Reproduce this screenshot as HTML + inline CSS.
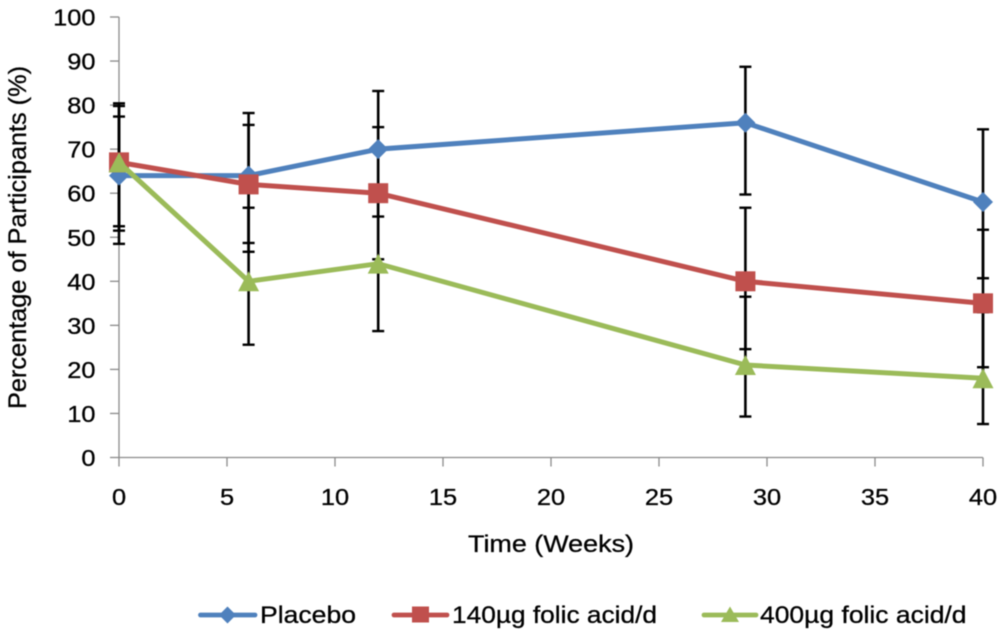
<!DOCTYPE html>
<html lang="en">
<head>
<meta charset="utf-8">
<title>Percentage of Participants over Time</title>
<style>
html,body{margin:0;padding:0;background:#fff;width:1000px;height:635px;overflow:hidden}
svg{display:block;filter:blur(0.45px)}
text{font-family:"Liberation Sans",sans-serif;fill:#000;stroke:#000;stroke-width:0.3px}
</style>
</head>
<body>
<svg id="chart" xmlns="http://www.w3.org/2000/svg" width="1000" height="635" viewBox="0 0 1000 635">
  <rect x="0" y="0" width="1000" height="635" fill="#fff"/>
  <g id="axes"></g>
  <g id="errors"></g>
  <g id="series"></g>
  <text transform="translate(26,409) rotate(-90)" font-size="25" textLength="343" lengthAdjust="spacingAndGlyphs">Percentage of Participants (%)</text>
  <text x="468" y="552" font-size="24" textLength="166" lengthAdjust="spacingAndGlyphs">Time (Weeks)</text>
  <g>
    <g>
      <line x1="200.5" y1="615" x2="255" y2="615" stroke="#4F81BD" stroke-width="4.8" stroke-linecap="round"/>
      <polygon points="227.5,606.5 236,615 227.5,623.5 219,615" fill="#4F81BD"/>
      <text x="260" y="623" font-size="24" textLength="96" lengthAdjust="spacingAndGlyphs">Placebo</text>
    </g>
    <g>
      <line x1="394" y1="615" x2="447" y2="615" stroke="#C0504D" stroke-width="4.8" stroke-linecap="round"/>
      <rect x="412" y="606.5" width="17" height="16" fill="#C0504D"/>
      <text x="452" y="623" font-size="24" textLength="205" lengthAdjust="spacingAndGlyphs">140µg folic acid/d</text>
    </g>
    <g>
      <line x1="704" y1="615" x2="756" y2="615" stroke="#9BBB59" stroke-width="4.8" stroke-linecap="round"/>
      <polygon points="730,606.5 739,622 721,622" fill="#9BBB59"/>
      <text x="760" y="623" font-size="24" textLength="206.5" lengthAdjust="spacingAndGlyphs">400µg folic acid/d</text>
    </g>
  </g>
</svg>
<script>
const weeks = [0, 6, 12, 29, 40];
const placebo = [64, 64, 70, 76, 58];
const folic140 = [67, 62, 60, 40, 35];
const folic400 = [67, 40, 44, 21, 18];
const placeboUpper = [79.8, 78.2, 83.2, 88.7, 74.5];
const placeboLower = [48.5, 48.7, 54.7, 59.7, 40.7];
const folic140Upper = [80.4, 75.5, 75, 56.7, 51.7];
const folic140Lower = [52.5, 46.7, 45, 24.6, 20.5];
const folic400Upper = [77.4, 56.7, 59, 36.5, 33];
const folic400Lower = [51.5, 25.6, 28.7, 9.3, 7.6];
const xTickLabels = [0, 5, 10, 15, 20, 25, 30, 35, 40];
const yTickLabels = [0, 10, 20, 30, 40, 50, 60, 70, 80, 90, 100];

const NS = 'http://www.w3.org/2000/svg';
const xScale = v => 119 + v * (983 - 119) / 40;
const yScale = v => 457.5 - v * (457.5 - 17) / 100;

function make(tag, attrs, parent) {
  const el = document.createElementNS(NS, tag);
  for (const k in attrs) el.setAttribute(k, attrs[k]);
  parent.appendChild(el);
  return el;
}

const axes = document.getElementById('axes');
const errors = document.getElementById('errors');
const seriesGroup = document.getElementById('series');
const axisStyle = { stroke: '#8a8a8a', 'stroke-width': 1.3, fill: 'none' };

const yAxis = make('line', { x1: xScale(0), y1: yScale(100), x2: xScale(0), y2: yScale(0), ...axisStyle }, axes);


const xAxis = make('line', { x1: xScale(0), y1: yScale(0), x2: xScale(40), y2: yScale(0), ...axisStyle }, axes);



yTickLabels.forEach(v => {
  const tick = make('line', { x1: xScale(0) - 9, y1: yScale(v), x2: xScale(0), y2: yScale(v), ...axisStyle }, axes);
  
  
  const label = make('text', { transform: `translate(95.5,${yScale(v) + 8.5}) scale(1.08,1)`, 'text-anchor': 'end', 'font-size': 23.5 }, axes);
  
  
  label.textContent = v;
});

xTickLabels.forEach(v => {
  const tick = make('line', { x1: xScale(v), y1: yScale(0), x2: xScale(v), y2: yScale(0) + 9, ...axisStyle }, axes);
  
  
  const label = make('text', { transform: `translate(${xScale(v)},505) scale(1.08,1)`, 'text-anchor': 'middle', 'font-size': 23.5 }, axes);
  
  
  label.textContent = v;
});

function drawErrors(values, upper, lower) {
  values.forEach((_, i) => {
    const x = xScale(weeks[i]);
    const stem = make('line', { x1: x, y1: yScale(upper[i]), x2: x, y2: yScale(lower[i]), stroke: '#000', 'stroke-width': 2.6 }, errors);
    
    
    [upper[i], lower[i]].forEach(c => {
      const cap = make('line', { x1: x - 6, y1: yScale(c), x2: x + 6, y2: yScale(c), stroke: '#000', 'stroke-width': 2.4 }, errors);
      
      
    });
  });
}
drawErrors(placebo, placeboUpper, placeboLower);
drawErrors(folic140, folic140Upper, folic140Lower);
drawErrors(folic400, folic400Upper, folic400Lower);

function linePoints(values) {
  return values.map((v, i) => xScale(weeks[i]) + ',' + yScale(v)).join(' ');
}

const placeboLine = make('polyline', { points: linePoints(placebo), fill: 'none', stroke: '#4F81BD', 'stroke-width': 5, 'stroke-linejoin': 'round' }, seriesGroup);


placebo.forEach((v, i) => {
  const x = xScale(weeks[i]), y = yScale(v);
  const m = make('polygon', { points: `${x},${y - 10} ${x + 10},${y} ${x},${y + 10} ${x - 10},${y}`, fill: '#4F81BD' }, seriesGroup);
  
  
});

const line140 = make('polyline', { points: linePoints(folic140), fill: 'none', stroke: '#C0504D', 'stroke-width': 5, 'stroke-linejoin': 'round' }, seriesGroup);


folic140.forEach((v, i) => {
  const x = xScale(weeks[i]), y = yScale(v);
  const m = make('rect', { x: x - 10, y: y - 10, width: 20, height: 20, fill: '#C0504D' }, seriesGroup);
  
  
});

const line400 = make('polyline', { points: linePoints(folic400), fill: 'none', stroke: '#9BBB59', 'stroke-width': 5, 'stroke-linejoin': 'round' }, seriesGroup);


folic400.forEach((v, i) => {
  const x = xScale(weeks[i]), y = yScale(v);
  const m = make('polygon', { points: `${x},${y - 10} ${x + 10.5},${y + 10} ${x - 10.5},${y + 10}`, fill: '#9BBB59' }, seriesGroup);
  
  
});
</script>
</body>
</html>
